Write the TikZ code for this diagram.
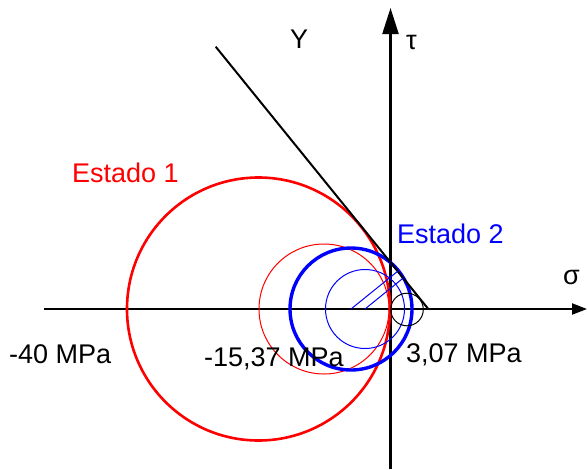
\documentclass[tikz,border=0pt]{standalone}
\usepackage{fontspec}
\setmainfont{Liberation Sans}
\usetikzlibrary{arrows.meta}
\begin{document}
\begin{tikzpicture}[x=1pt,y=-1pt,
  lab/.style={inner sep=0pt, anchor=base west, font=\fontsize{27}{30}\selectfont},
  axis/.style={line width=2.2pt, black},
  thinc/.style={line width=1pt},
  tline/.style={line width=2pt, black}]
\useasboundingbox (0,0) rectangle (588,469);
% axes
\coordinate (xs) at (44,309);
\coordinate (xe) at (587,309);
\coordinate (ys) at (390.5,469);
\coordinate (ye) at (390.5,8);
\draw[axis, -{Triangle[length=15pt,width=11pt]}] (xs) -- (xe);
\draw[axis, -{Triangle[length=26pt,width=16pt]}] (ys) -- (ye);
% circles
\draw[red, line width=2.6pt] (258.5,309) circle[radius=131.5pt];
\draw[red, thinc] (324,309) circle[radius=65pt];
\draw[blue, line width=3.4pt] (351,309) circle[radius=61pt];
\draw[blue, thinc] (365,309) circle[radius=39.5pt];
\draw[black, thinc] (407,309.5) circle[radius=16.3pt];
% tangent line
\coordinate (ta) at (215.7,46.7);
\coordinate (tb) at (428.3,309);
\draw[tline] (ta) -- (tb);
% radius lines
\coordinate (c1) at (351,309);
\coordinate (p1) at (397.5,271.4);
\coordinate (c2) at (365,309);
\coordinate (p2) at (403,278.2);
\draw[blue, thinc] (c1) -- (p1);
\draw[blue, thinc] (c2) -- (p2);
% labels
\node[lab, red] (e1) at (72,182) {Estado 1};
\node[lab, blue] (e2) at (397,243) {Estado 2};
\node[lab] (l40) at (9,363) {-40 MPa};
\node[lab] (l15) at (204,366) {-15,37 MPa};
\node[lab] (l3) at (406,362) {3,07 MPa};
\node[lab] (ly) at (290,48) {Y};
\node[lab] (lt) at (406,49.5) {τ};
\node[lab] (ls) at (563,284) {σ};
\end{tikzpicture}
\end{document}
